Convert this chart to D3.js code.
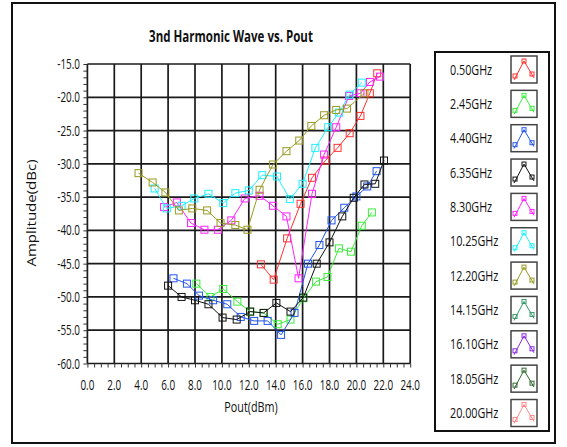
<!DOCTYPE html>
<html>
<head>
<meta charset="utf-8">
<script src="https://cdn.jsdelivr.net/npm/d3@7"></script>
<style>
  body { margin: 0; background: #fff; }
  svg { display: block; font-family: "Open Sans", "Noto Sans", sans-serif; }
</style>
</head>
<body>
<svg id="chart" width="567" height="447"></svg>
<script>
// legend names + colours
var freqs = ['0.50GHz','2.45GHz','4.40GHz','6.35GHz','8.30GHz','10.25GHz','12.20GHz','14.15GHz','16.10GHz','18.05GHz','20.00GHz'];
var colors = ['#ff3030','#3aee3a','#2255ee','#111111','#ff22ff','#1ef0ff','#999922','#339966','#8a2be2','#2e6b2e','#ff8888'];

var xTicks = [0,2,4,6,8,10,12,14,16,18,20,22,24];
var yTicks = [-15,-20,-25,-30,-35,-40,-45,-50,-55,-60];

// [Pout, amplitude]
var s050 = [[12.9,-45.1],[13.85,-47.4],[14.85,-41.2],[15.85,-36.0],[16.7,-32.1],[17.7,-29.5],[18.6,-27.6],[19.5,-25.4],[20.3,-22.8],[21.0,-19.4],[21.55,-16.4]];
var s245 = [[8.1,-48.0],[9.15,-50.0],[10.1,-48.8],[11.15,-50.7],[12.1,-52.2],[13.1,-52.4],[14.15,-54.1],[15.1,-53.4],[16.05,-50.2],[17.0,-47.7],[17.85,-47.0],[18.7,-42.7],[19.6,-43.2],[20.4,-39.3],[21.15,-37.3]];
var s440 = [[6.4,-47.2],[7.4,-48.0],[8.3,-49.8],[9.35,-50.5],[10.4,-51.1],[11.4,-53.0],[12.4,-53.6],[13.4,-53.6],[14.4,-55.7],[15.4,-52.4],[16.4,-45.0],[17.25,-42.2],[18.15,-38.5],[19.1,-36.6],[20.0,-34.9],[20.8,-33.4],[21.5,-31.1]];
var s635 = [[6.0,-48.3],[7.0,-50.0],[8.0,-50.5],[9.0,-51.1],[10.05,-53.1],[11.1,-53.4],[12.1,-52.2],[13.1,-52.4],[14.05,-50.9],[15.1,-52.2],[16.05,-50.1],[17.05,-45.0],[18.0,-41.8],[18.95,-37.9],[19.8,-35.1],[20.6,-33.1],[21.4,-33.0],[22.05,-29.5]];
var s830 = [[5.7,-36.5],[6.65,-35.8],[7.7,-38.9],[8.7,-39.9],[9.7,-39.9],[10.7,-38.5],[11.7,-35.2],[12.8,-34.8],[13.8,-36.3],[14.8,-37.9],[15.7,-47.2],[16.7,-34.5],[17.6,-28.6],[18.5,-24.5],[19.45,-19.8],[20.3,-19.4],[21.0,-17.7],[21.75,-16.9]];
var s1025 = [[5.0,-33.7],[5.9,-36.7],[7.0,-36.3],[7.95,-35.2],[9.0,-34.5],[10.1,-35.9],[11.0,-34.4],[12.0,-34.0],[13.0,-31.7],[14.1,-31.9],[15.05,-35.3],[16.0,-33.0],[16.95,-27.6],[17.9,-24.5],[18.7,-22.3],[19.5,-19.6],[20.4,-17.8]];
var s1220 = [[3.8,-31.4],[4.85,-32.8],[5.8,-34.3],[6.8,-37.0],[7.8,-36.7],[8.9,-37.0],[9.9,-38.9],[11.0,-39.2],[11.9,-39.9],[12.8,-33.9],[13.8,-30.1],[14.8,-28.1],[15.75,-26.5],[16.65,-24.3],[17.6,-22.7],[18.5,-21.9],[19.3,-21.7],[20.6,-19.4]];
// these four have nothing visible on the plot
var s1415 = [], s1610 = [], s1805 = [], s2000 = [];

var series = [s050,s245,s440,s635,s830,s1025,s1220,s1415,s1610,s1805,s2000];

var svg = d3.select('#chart');
var x = d3.scaleLinear().domain([0,24]).range([87.4,410.2]);
var y = d3.scaleLinear().domain([-60,-15]).range([363.5,64]);

// squeezed text, the original font is tall and narrow
function txt(g, px, py, s, size, sx, anchor, weight){
  return g.append('text')
    .attr('transform','translate('+px+','+py+') scale('+sx+',1)')
    .attr('text-anchor',anchor||'start')
    .attr('font-size',size)
    .attr('font-weight',weight||'normal')
    .attr('fill','#111')
    .text(s);
}

// outer frame
svg.append('rect').attr('x',12).attr('y',3).attr('width',543).attr('height',440)
  .attr('fill','none').attr('stroke','#111').attr('stroke-width',2);

txt(svg, 231, 42, '3nd Harmonic Wave vs. Pout', 16, 0.72, 'middle', 'bold');

// grid
var grid = svg.append('g');
grid.selectAll('.vx').data(xTicks).enter().append('line')
  .attr('x1',d=>x(d)).attr('x2',d=>x(d)).attr('y1',y(-15)).attr('y2',y(-60))
  .attr('stroke','#1a1a1a').attr('stroke-width',1.7);
grid.selectAll('.hy').data(yTicks).enter().append('line')
  .attr('x1',x(0)).attr('x2',x(24)).attr('y1',d=>y(d)).attr('y2',d=>y(d))
  .attr('stroke','#1a1a1a').attr('stroke-width',1.7);

// minor ticks through d3 axes
svg.append('g').attr('transform','translate(0,'+y(-60)+')')
  .call(d3.axisBottom(x).ticks(48).tickSize(4).tickFormat(''))
  .call(g=>g.select('.domain').remove())
  .call(g=>g.selectAll('line').attr('stroke','#333'));
svg.append('g').attr('transform','translate('+x(0)+',0)')
  .call(d3.axisLeft(y).ticks(45).tickSize(4).tickFormat(''))
  .call(g=>g.select('.domain').remove())
  .call(g=>g.selectAll('line').attr('stroke','#333'));

// tick labels
var lab = svg.append('g');
xTicks.forEach(function(d){ txt(lab, x(d), 390, d.toFixed(1), 15, 0.66, 'middle'); });
yTicks.forEach(function(d){ txt(lab, 80, y(d)+5, d.toFixed(1), 15, 0.66, 'end'); });

txt(svg, 251, 412, 'Pout(dBm)', 15, 0.72, 'middle');
svg.append('text').attr('transform','translate(36,213) rotate(-90) scale(1,0.8)')
  .attr('text-anchor','middle').attr('font-size',15).attr('fill','#111')
  .text('Amplitude(dBc)');

// lines + square markers
var line = d3.line().x(d=>x(d[0])).y(d=>y(d[1]));
var plot = svg.append('g');
series.forEach(function(s,i){
  if(!s.length) return;
  plot.append('path').datum(s).attr('d',line)
    .attr('fill','none').attr('stroke',colors[i]).attr('stroke-width',1);
  plot.selectAll('.m'+i).data(s).enter().append('rect')
    .attr('x',d=>x(d[0])-3.5).attr('y',d=>y(d[1])-3.5).attr('width',7).attr('height',7)
    .attr('fill','none').attr('stroke',colors[i]).attr('stroke-width',1);
});

// legend
var leg = svg.append('g');
leg.append('rect').attr('x',435).attr('y',52).attr('width',114).attr('height',379)
  .attr('fill','#fff').attr('stroke','#111').attr('stroke-width',2);
var rowY = d3.scalePoint().domain(freqs).range([69.5,413]);
freqs.forEach(function(f,i){
  var cy = rowY(f);
  txt(leg, 450, cy+5, f, 15, 0.72, 'start');
  var bx = 511, by = cy-13.5;
  leg.append('rect').attr('x',bx).attr('y',by).attr('width',26).attr('height',27)
    .attr('fill','#fff').attr('stroke','#444').attr('stroke-width',1.5);
  leg.append('polyline')
    .attr('points',[[bx+3,by+24],[bx+13,by+5],[bx+23,by+22]].map(p=>p.join(',')).join(' '))
    .attr('fill','none').attr('stroke',colors[i]).attr('stroke-width',1);
  [[bx+13,by+5],[bx+4,by+20],[bx+21,by+18]].forEach(function(p){
    leg.append('rect').attr('x',p[0]-2).attr('y',p[1]-2).attr('width',4).attr('height',4)
      .attr('fill','none').attr('stroke',colors[i]).attr('stroke-width',1);
  });
});
</script>
</body>
</html>
